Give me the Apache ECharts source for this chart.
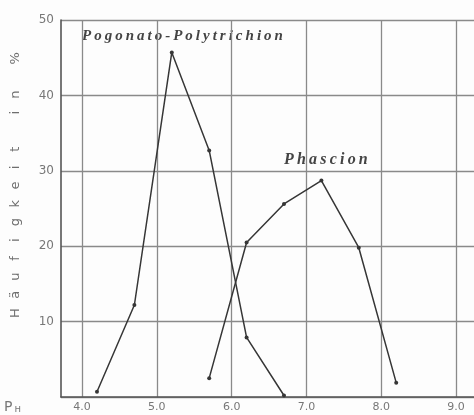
<!DOCTYPE html>
<html><head><meta charset="utf-8">
<script src="https://cdn.jsdelivr.net/npm/echarts@6/dist/echarts.min.js"></script>
<style>html,body{margin:0;padding:0;background:#fff}#c{width:474px;height:415px}</style>
</head><body><div id="c"></div>
<script>
// pH classes and frequency (%) of the two moss communities
const phTicks = [4, 5, 6, 7, 8, 9];
const freqTicks = [10, 20, 30, 40, 50];
const pogonatoPh = [4.2, 4.7, 5.2, 5.7, 6.2, 6.7];
const pogonatoFreq = [0.7, 12.2, 45.7, 32.7, 7.9, 0.2];
const phascionPh = [5.7, 6.2, 6.7, 7.2, 7.7, 8.2];
const phascionFreq = [2.5, 20.5, 25.6, 28.7, 19.8, 1.9];
const yTitle = 'Häufigkeit in %';
const pogonatoName = 'Pogonato-Polytrichion';
const phascionName = 'Phascion';

const spaced = s => s.split('').join('\u2009');
const pairs = (xs, ys) => xs.map((x, i) => [x, ys[i]]);

const ink = '#363636';
const gridColor = '#8a8a8a';
const labelColor = '#777';

// vertical axis title, one glyph per step, reading bottom to top
const titleGlyphs = yTitle.split('').map((ch, i) => ({
  type: 'text',
  x: 16, y: 313 - i * 18.2,
  rotation: Math.PI / 2,
  style: {
    text: ch, fill: '#6e6e6e',
    font: '13px "DejaVu Sans"', align: 'center', verticalAlign: 'middle'
  }
}));

const chart = echarts.init(document.getElementById('c'), null, {renderer: 'canvas'});
chart.setOption({
  backgroundColor: '#fdfdfd',
  animation: false,
  grid: {left: 61, right: 0, top: 20, bottom: 18},
  xAxis: {
    type: 'value', min: 3.719, max: 9.24,
    axisLine: {show: true, lineStyle: {color: '#555', width: 1.6}},
    axisTick: {show: false, customValues: phTicks},
    axisLabel: {
      customValues: phTicks,
      color: labelColor, fontSize: 11, margin: 5,
      fontFamily: 'DejaVu Sans', formatter: v => v.toFixed(1)
    },
    splitLine: {show: true, lineStyle: {color: gridColor, width: 1.3}}
  },
  yAxis: {
    type: 'value', min: 0, max: 50, interval: 10,
    axisLine: {show: true, lineStyle: {color: '#555', width: 1.6}},
    axisTick: {show: false},
    axisLabel: {
      showMinLabel: false, color: labelColor, fontSize: 12, margin: 7,
      fontFamily: 'DejaVu Sans', verticalAlign: 'middle', padding: [0, 0, 2, 0]
    },
    splitLine: {show: true, lineStyle: {color: gridColor, width: 1.3}}
  },
  graphic: titleGlyphs.concat([
    {
      type: 'text', x: 4, y: 407,
      style: {
        text: '{p|P}{h|н}', fill: labelColor, verticalAlign: 'middle',
        rich: {
          p: {fontSize: 14, fontFamily: 'DejaVu Sans', fill: labelColor},
          h: {fontSize: 10, fontFamily: 'DejaVu Sans', fill: labelColor, padding: [4, 0, 0, 2]}
        }
      }
    },
    {
      type: 'text', x: 82, y: 36,
      style: {
        text: spaced(pogonatoName), fill: '#444',
        font: 'italic 600 15px "Liberation Serif"', verticalAlign: 'middle'
      }
    },
    {
      type: 'text', x: 284, y: 160,
      style: {
        text: spaced(phascionName), fill: '#444',
        font: 'italic 600 16px "Liberation Serif"', verticalAlign: 'middle'
      }
    }
  ]),
  series: [
    {
      name: pogonatoName, type: 'line', data: pairs(pogonatoPh, pogonatoFreq),
      symbol: 'circle', symbolSize: 4,
      lineStyle: {color: ink, width: 1.5}, itemStyle: {color: ink}
    },
    {
      name: phascionName, type: 'line', data: pairs(phascionPh, phascionFreq),
      symbol: 'circle', symbolSize: 4,
      lineStyle: {color: ink, width: 1.5}, itemStyle: {color: ink}
    }
  ]
});
</script></body></html>
